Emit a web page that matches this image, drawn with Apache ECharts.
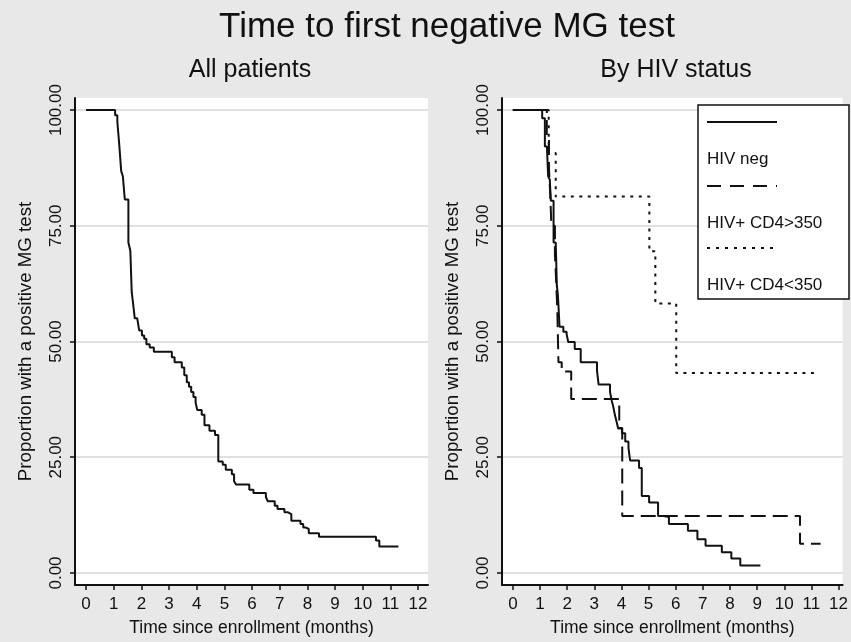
<!DOCTYPE html>
<html>
<head>
<meta charset="utf-8">
<title>Time to first negative MG test</title>
<script src="https://cdn.jsdelivr.net/npm/echarts@6/dist/echarts.min.js"></script>
<style>
	html, body { margin: 0; padding: 0; width: 100%; height: 100%; background: #e8e8e8; }
	#chartBox { width: 851px; height: 642px; }
</style>
</head>
<body>
<div id="chartBox"></div>
<script>
	// Kaplan-Meier steps: [months, % still positive]
	var allPatients = [[0, 100], [1.05, 98.9], [1.13, 97.5], [1.20, 92.5], [1.27, 86.8], [1.33, 85.7], [1.40, 80.7],
		[1.53, 71.4], [1.60, 69.6], [1.65, 60.7], [1.70, 58.2], [1.76, 55.0], [1.85, 54.6], [1.92, 52.4], [2.02, 51.3],
		[2.10, 50.6], [2.18, 49.4], [2.30, 48.7], [2.45, 47.8], [3.10, 46.6], [3.20, 45.5], [3.46, 44.4], [3.55, 42.7],
		[3.64, 41.2], [3.72, 40.2], [3.80, 39.1], [3.88, 38.0], [3.96, 36.8], [4.02, 35.2], [4.18, 34.2], [4.28, 31.9],
		[4.46, 30.7], [4.66, 29.8], [4.78, 24.1], [4.94, 23.4], [5.05, 22.3], [5.27, 21.3], [5.35, 19.8], [5.42, 19.1],
		[5.90, 18.0], [6.05, 17.3], [6.50, 16.4], [6.57, 15.5], [6.82, 14.5], [6.92, 13.8], [7.17, 13.1], [7.30, 12.7],
		[7.42, 11.3], [7.75, 10.6], [7.85, 9.8], [7.95, 9.5], [8.05, 8.6], [8.42, 7.8], [10.48, 7.0], [10.60, 5.7],
		[11.29, 5.7]];
	var hivNeg = [[0, 100], [1.08, 98.2], [1.18, 92.1], [1.26, 91.4], [1.30, 85.7], [1.36, 85.0], [1.40, 80.4],
		[1.50, 71.4], [1.58, 71.0], [1.62, 62.1], [1.66, 60.0], [1.72, 53.2], [1.86, 52.1], [1.98, 51.6], [2.04, 49.9],
		[2.28, 48.4], [2.50, 45.5], [3.10, 43.7], [3.16, 40.7], [3.58, 39.1], [3.64, 37.3], [3.70, 35.9], [3.76, 34.1],
		[3.82, 32.7], [3.88, 31.2], [4.02, 30.2], [4.14, 28.4], [4.26, 27.0], [4.32, 24.3], [4.65, 22.7], [4.75, 16.6],
		[5.02, 15.2], [5.35, 12.3], [5.55, 12.1], [5.75, 10.6], [6.45, 9.1], [6.80, 7.3], [7.10, 5.9], [7.70, 4.5],
		[8.05, 3.1], [8.38, 1.6], [9.12, 1.6]];
	var cd4Over350 = [[0, 100], [1.25, 93.8], [1.33, 87.5], [1.38, 81.3], [1.42, 75.0], [1.55, 68.8], [1.60, 62.5],
		[1.64, 56.3], [1.68, 45.5], [1.80, 43.5], [2.15, 37.6], [3.92, 31.3], [4.03, 12.3], [10.58, 6.3], [11.34, 6.3]];
	var cd4Under350 = [[0, 100], [1.32, 90.7], [1.58, 81.3], [5.03, 69.5], [5.25, 58.2], [6.02, 43.2], [11.16, 43.2]];

	var groupNames = ['HIV neg', 'HIV+ CD4>350', 'HIV+ CD4<350'];
	var xTicks = [0, 1, 2, 3, 4, 5, 6, 7, 8, 9, 10, 11, 12];
	var yTicks = [0, 25, 50, 75, 100];

	var font = 'Liberation Sans, Arial, sans-serif';
	var dashed = [15, 7];
	var dotted = [3, 5.5];

	function xAxisFor(grid, max) {
		return {
			gridIndex: grid, type: 'value', min: -0.4, max: max,
			name: 'Time since enrollment (months)', nameLocation: 'middle', nameGap: 34,
			nameTextStyle: { color: '#111', fontSize: 17.5, fontFamily: font },
			axisLine: { onZero: false, lineStyle: { color: '#111', width: 2 } },
			axisTick: { customValues: xTicks, length: 5, lineStyle: { color: '#111', width: 1.5 } },
			axisLabel: { customValues: xTicks, margin: 11, color: '#111', fontSize: 17, fontFamily: font },
			splitLine: { show: false }
		};
	}

	function yAxisFor(grid) {
		return {
			gridIndex: grid, type: 'value', min: -2.6, max: 102.6,
			name: 'Proportion with a positive MG test', nameLocation: 'middle', nameGap: 40,
			nameTextStyle: { color: '#111', fontSize: 18.7, fontFamily: font },
			axisLine: { show: true, onZero: false, lineStyle: { color: '#111', width: 2 } },
			axisTick: { show: true, customValues: yTicks, length: 5, lineStyle: { color: '#111', width: 1.5 } },
			axisLabel: {
				customValues: yTicks, rotate: 90, margin: 10, color: '#111', fontSize: 17, fontFamily: font,
				formatter: function (v) { return v.toFixed(2); }
			},
			splitLine: { show: true, lineStyle: { color: '#d6d6d6', width: 1.5 } }
		};
	}

	function stepLine(name, data, grid, dash) {
		return {
			name: name, type: 'line', step: 'end', data: data,
			xAxisIndex: grid, yAxisIndex: grid, showSymbol: false, silent: true,
			lineStyle: { color: '#111', width: 2, type: dash, cap: 'butt' }
		};
	}

	// legend of the right panel: sample line above its label, as in the picture
	var legendItems = [
		{ type: 'rect', z: 100, shape: { x: 698, y: 105, width: 151, height: 194 }, style: { fill: '#fff', stroke: '#111', lineWidth: 1.5 } }
	];
	var legendDash = [null, [14, 9], [3, 6]];
	var legendLineY = [122, 186, 248];
	var legendTextY = [159, 223, 285];
	groupNames.forEach(function (n, i) {
		legendItems.push({
			type: 'line', z: 101, shape: { x1: 707, y1: legendLineY[i], x2: i === 2 ? 773 : 777, y2: legendLineY[i] },
			style: { stroke: '#111', lineWidth: 2, lineDash: legendDash[i] }
		});
		legendItems.push({
			type: 'text', z: 101, x: 707, y: legendTextY[i],
			style: { text: n, fill: '#111', fontSize: 17, fontFamily: font, verticalAlign: 'middle' }
		});
	});

	var chart = echarts.init(document.getElementById('chartBox'));
	var option = {
		animation: false,
		backgroundColor: '#e8e8e8',
		title: [
			{ text: 'Time to first negative MG test', left: 447, top: 10, textAlign: 'center', padding: 0,
				textStyle: { fontSize: 35, fontWeight: 'normal', color: '#111', fontFamily: font } },
			{ text: 'All patients', left: 250, top: 58, textAlign: 'center', padding: 0,
				textStyle: { fontSize: 25, fontWeight: 'normal', color: '#111', fontFamily: font } },
			{ text: 'By HIV status', left: 676, top: 58, textAlign: 'center', padding: 0,
				textStyle: { fontSize: 25, fontWeight: 'normal', color: '#111', fontFamily: font } }
		],
		grid: [
			{ left: 75, right: 423, top: 98, bottom: 54, show: true, backgroundColor: '#fff', borderWidth: 0 },
			{ left: 502, right: 0, top: 98, bottom: 54, show: true, backgroundColor: '#fff', borderWidth: 0 }
		],
		xAxis: [xAxisFor(0, 12.36), xAxisFor(1, 12.15)],
		yAxis: [yAxisFor(0), yAxisFor(1)],
		series: [
			stepLine('All patients', allPatients, 0, 'solid'),
			stepLine(groupNames[2], cd4Under350, 1, dotted),
			stepLine(groupNames[1], cd4Over350, 1, dashed),
			stepLine(groupNames[0], hivNeg, 1, 'solid')
		],
		graphic: legendItems
	};
	chart.setOption(option);
</script>
</body>
</html>
